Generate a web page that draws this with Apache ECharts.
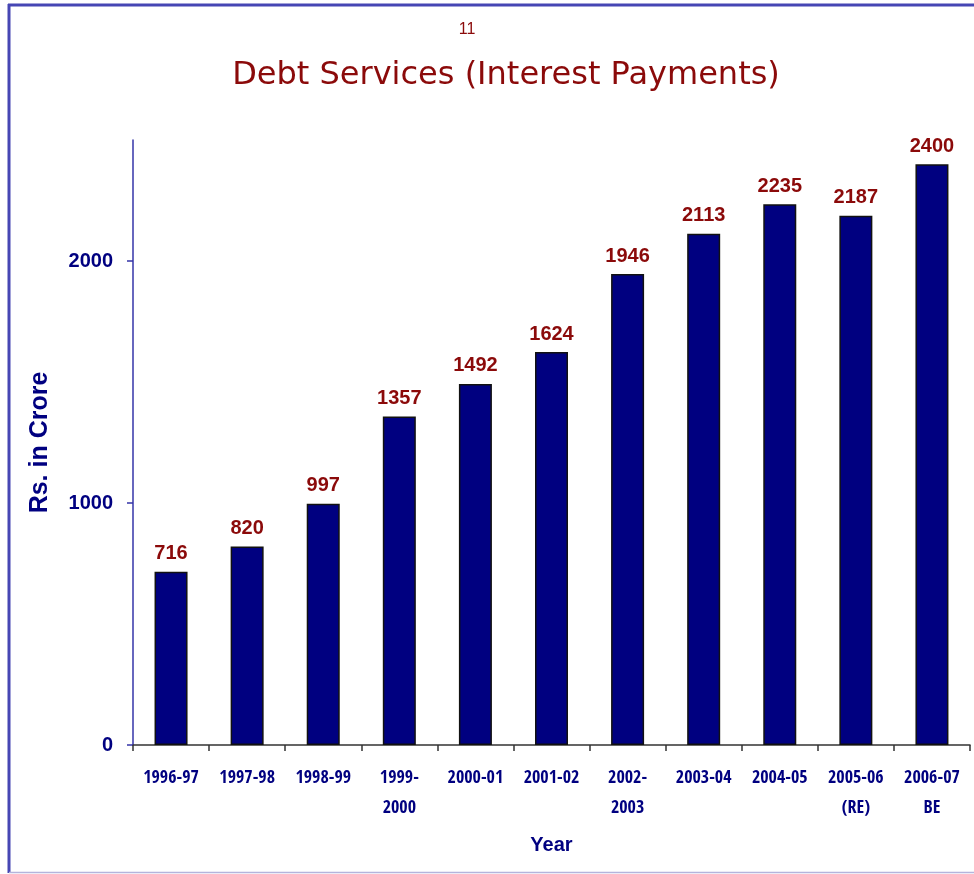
<!DOCTYPE html>
<html>
<head>
<meta charset="utf-8">
<script src="https://cdn.jsdelivr.net/npm/echarts@6/dist/echarts.min.js"></script>
<style>
html,body{margin:0;padding:0;background:#fff;}
#chart{width:974px;height:874px;}
</style>
</head>
<body>
<div id="chart"></div>
<script>
var categories = ['1996-97','1997-98','1998-99','1999-\n2000','2000-01','2001-02','2002-\n2003','2003-04','2004-05','2005-06\n(RE)','2006-07\nBE'];
var interestPayments = [716, 820, 997, 1357, 1492, 1624, 1946, 2113, 2235, 2187, 2400];
var yTicks = [0, 1000, 2000];

var navy = '#000080';
var darkRed = '#8b0a0a';

var chart = echarts.init(document.getElementById('chart'));
chart.setOption({
  animation: false,
  backgroundColor: '#ffffff',
  title: [
    {
      text: '11',
      left: 462, top: 17, textAlign: 'center',
      textStyle: {color: darkRed, fontSize: 16, fontWeight: 'normal', fontFamily: 'Liberation Sans, Arial, sans-serif'}
    },
    {
      text: 'Debt Services (Interest Payments)',
      left: 501, top: 55, textAlign: 'center',
      textStyle: {color: darkRed, fontSize: 32, fontWeight: 'normal', fontFamily: 'DejaVu Sans, sans-serif'}
    }
  ],
  graphic: [
    {type: 'line', shape: {x1: 8, y1: 5, x2: 974, y2: 5}, style: {stroke: '#4646b4', lineWidth: 3}},
    {type: 'line', shape: {x1: 9, y1: 4, x2: 9, y2: 873}, style: {stroke: '#4646b4', lineWidth: 3}},
    {type: 'line', shape: {x1: 9, y1: 872.5, x2: 974, y2: 872.5}, style: {stroke: '#b4b4dc', lineWidth: 1.5}}
  ],
  grid: {left: 133, right: 4, top: 140, bottom: 129, containLabel: false},
  xAxis: {
    type: 'category',
    data: categories,
    name: 'Year',
    nameLocation: 'middle',
    nameGap: 90,
    nameTextStyle: {color: navy, fontSize: 20, fontWeight: 'bold', fontFamily: 'Liberation Sans, Arial, sans-serif'},
    axisLine: {lineStyle: {color: '#333333', width: 1.5}},
    axisTick: {show: true, length: 6, lineStyle: {color: '#333333', width: 1.5}},
    axisLabel: {
      interval: 0,
      margin: 18,
      color: navy,
      fontSize: 18,
      lineHeight: 30,
      fontWeight: 'bold',
      fontFamily: 'Open Sans Condensed, Roboto Condensed, DejaVu Sans Condensed, sans-serif'
    }
  },
  yAxis: {
    type: 'value',
    min: 0,
    max: 2500,
    interval: 1000,
    name: 'Rs. in Crore',
    nameLocation: 'middle',
    nameGap: 80,
    nameRotate: 90,
    nameTextStyle: {color: navy, fontSize: 25, fontWeight: 'bold', fontFamily: 'Liberation Sans, Arial, sans-serif'},
    splitLine: {show: false},
    axisLine: {show: true, lineStyle: {color: '#3535a8', width: 1.5}},
    axisTick: {show: true, length: 6, customValues: yTicks, lineStyle: {color: '#3535a8', width: 1.5}},
    axisLabel: {
      customValues: yTicks,
      formatter: function (v) { return String(v); },
      margin: 20,
      color: navy,
      fontSize: 20,
      fontWeight: 'bold',
      fontFamily: 'Liberation Sans, Arial, sans-serif'
    }
  },
  series: [{
    type: 'bar',
    data: interestPayments,
    barWidth: 33,
    itemStyle: {color: navy, borderColor: '#111111', borderWidth: 1.5},
    label: {
      show: true,
      position: 'top',
      distance: 8,
      color: darkRed,
      fontSize: 20,
      fontWeight: 'bold',
      fontFamily: 'Liberation Sans, Arial, sans-serif'
    }
  }]
});
</script>
</body>
</html>
